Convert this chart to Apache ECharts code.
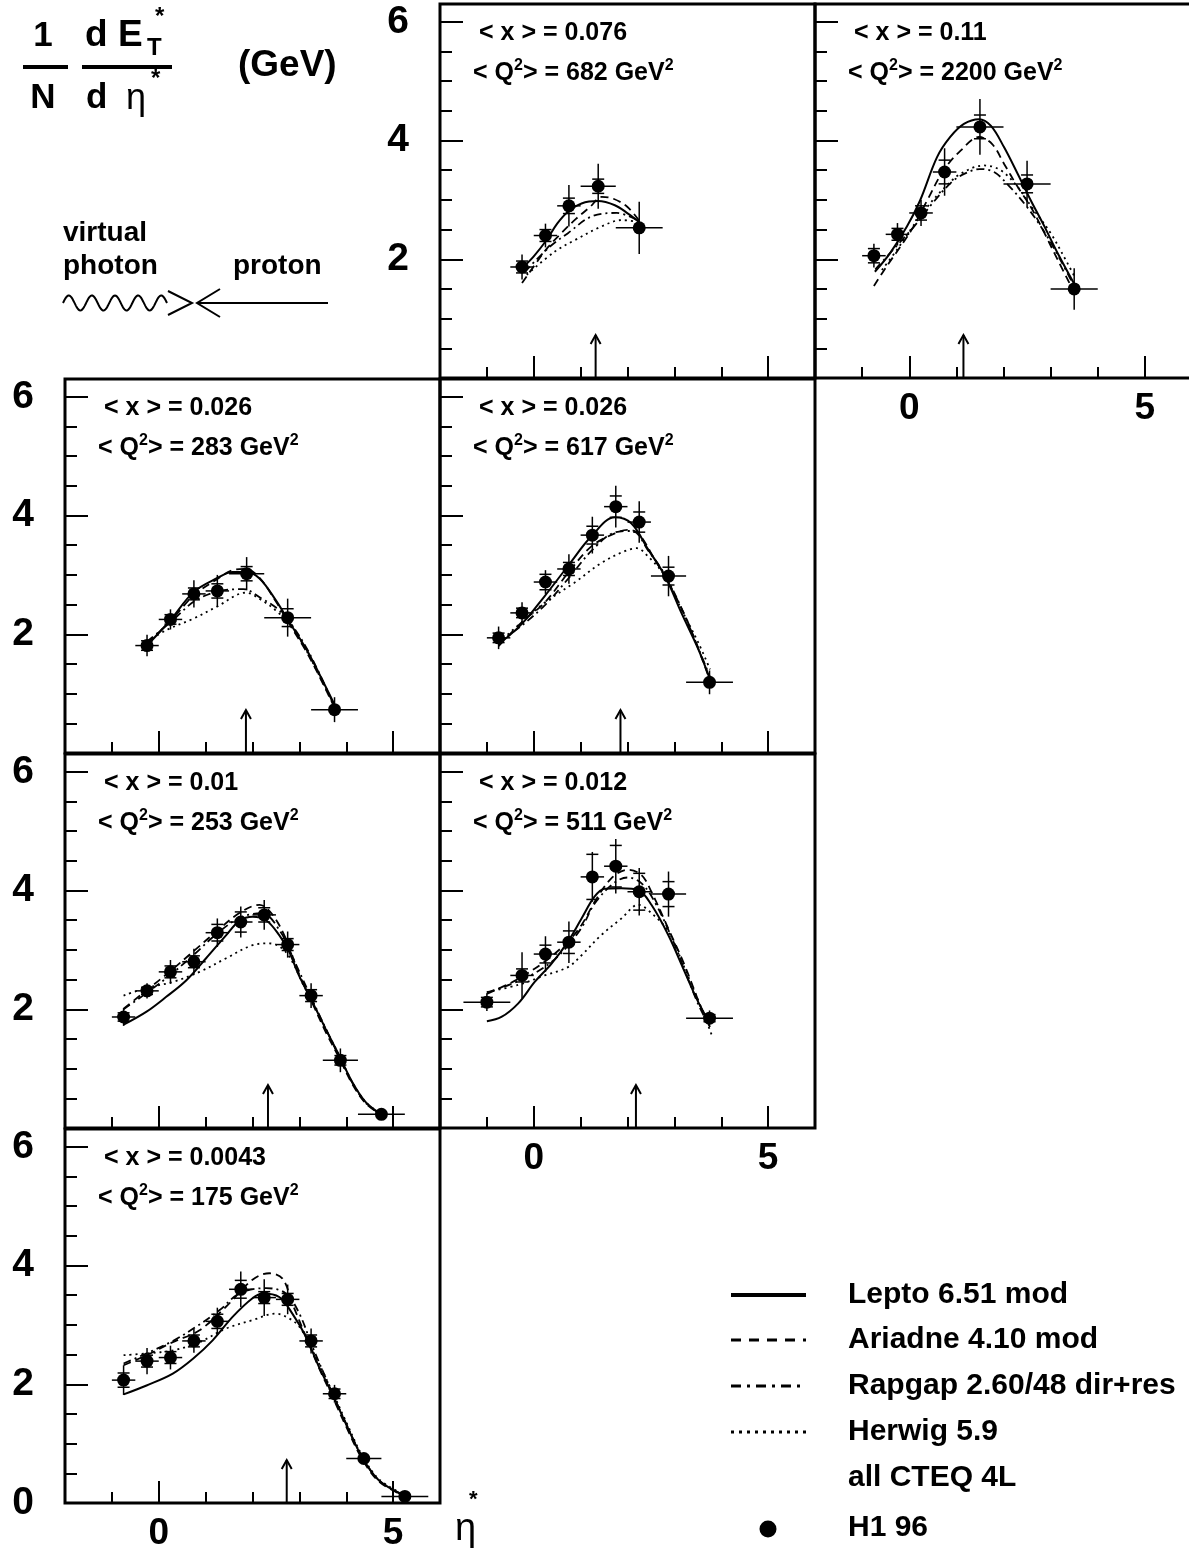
<!DOCTYPE html>
<html><head><meta charset="utf-8">
<script src="https://cdn.jsdelivr.net/npm/echarts@6/dist/echarts.min.js"></script>
<style>html,body{margin:0;padding:0;background:#fff}#c{width:1189px;height:1557px}</style>
</head><body><div id="c"></div>
<script>
// ---------------- DATA ----------------
// H1 96 data points: [eta*, value, total error, stat error, half bin width]
const h1A = [[-0.25,1.87,0.21,0.10,0.25],[0.25,2.40,0.20,0.10,0.25],[0.75,2.90,0.35,0.13,0.25],[1.375,3.23,0.38,0.12,0.375],[2.25,2.53,0.44,0,0.5]];
const h1B = [[-0.75,2.06,0.20,0.12,0.25],[-0.25,2.42,0.19,0.10,0.25],[0.25,2.78,0.22,0.12,0.25],[0.75,3.47,0.40,0.20,0.25],[1.5,4.23,0.47,0.20,0.5],[2.5,3.27,0.39,0.15,0.5],[3.5,1.50,0.35,0,0.5]];
const h1C = [[-0.25,1.81,0.18,0.08,0.25],[0.25,2.25,0.17,0.08,0.25],[0.75,2.68,0.23,0.10,0.25],[1.25,2.73,0.27,0.12,0.25],[1.875,3.02,0.28,0.12,0.375],[2.75,2.28,0.32,0.15,0.5],[3.75,0.73,0.21,0,0.5]];
const h1D = [[-0.75,1.94,0.19,0.08,0.25],[-0.25,2.36,0.18,0.08,0.25],[0.25,2.88,0.20,0.13,0.25],[0.75,3.10,0.25,0.11,0.25],[1.25,3.67,0.31,0.15,0.25],[1.75,4.15,0.35,0.18,0.25],[2.25,3.89,0.35,0.17,0.25],[2.875,2.98,0.34,0.15,0.375],[3.75,1.19,0.20,0,0.5]];
const h1E = [[-0.75,1.87,0.15,0.07,0.25],[-0.25,2.31,0.13,0.06,0.25],[0.25,2.63,0.20,0.10,0.25],[0.75,2.80,0.22,0.10,0.25],[1.25,3.29,0.24,0.14,0.25],[1.75,3.47,0.26,0.17,0.25],[2.25,3.59,0.25,0.12,0.25],[2.75,3.09,0.22,0.10,0.25],[3.25,2.23,0.21,0.10,0.25],[3.875,1.14,0.20,0.08,0.375],[4.75,0.23,0.03,0,0.5]];
const h1F = [[-1.0,2.12,0.15,0.08,0.5],[-0.25,2.57,0.39,0.11,0.25],[0.25,2.93,0.30,0.15,0.25],[0.75,3.13,0.35,0.19,0.25],[1.25,4.23,0.42,0.38,0.25],[1.75,4.41,0.46,0.35,0.25],[2.25,3.98,0.40,0.31,0.25],[2.875,3.94,0.38,0.21,0.375],[3.75,1.85,0.13,0.06,0.5]];
const h1G = [[-0.75,2.07,0.25,0.12,0.25],[-0.25,2.39,0.22,0.10,0.25],[0.25,2.45,0.20,0.10,0.25],[0.75,2.73,0.20,0.10,0.25],[1.25,3.06,0.23,0.12,0.25],[1.75,3.60,0.30,0.15,0.25],[2.25,3.46,0.31,0.10,0.25],[2.75,3.43,0.25,0.10,0.25],[3.25,2.73,0.21,0.10,0.25],[3.75,1.84,0.15,0.08,0.25],[4.375,0.75,0.05,0,0.375],[5.25,0.11,0.03,0,0.5]];

// Lepto 6.51 mod
const leptoA = [[-0.21,1.88],[0.0,2.05],[0.27,2.32],[0.5,2.6],[0.73,2.80],[1.02,2.94],[1.37,2.98],[1.73,2.91],[2.01,2.77],[2.25,2.63]];
const leptoB = [[-0.73,1.79],[-0.41,2.1],[-0.05,2.55],[0.23,2.99],[0.59,3.72],[0.87,4.06],[1.16,4.28],[1.48,4.36],[1.73,4.25],[2.01,3.89],[2.3,3.44],[2.58,2.99],[2.87,2.55],[3.15,2.1],[3.51,1.57]];
const leptoC = [[-0.25,1.81],[0.25,2.24],[0.74,2.71],[1.23,2.94],[1.58,3.05],[1.86,3.05],[2.15,2.94],[2.5,2.57],[2.78,2.21],[3.14,1.76],[3.42,1.34],[3.74,0.83]];
const leptoD = [[-0.75,1.83],[-0.26,2.17],[0.23,2.64],[0.73,3.15],[1.23,3.65],[1.73,3.97],[2.08,3.87],[2.44,3.43],[2.8,2.98],[3.15,2.36],[3.51,1.75],[3.76,1.24]];
const leptoE = [[-0.75,1.74],[-0.26,1.96],[0.16,2.21],[0.59,2.49],[1.01,2.86],[1.44,3.25],[1.72,3.49],[2.0,3.56],[2.29,3.50],[2.57,3.25],[2.78,2.97],[2.99,2.57],[3.28,2.12],[3.56,1.67],[3.85,1.22],[4.13,0.77],[4.41,0.44],[4.73,0.24]];
const leptoF = [[-1.0,1.80],[-0.69,1.87],[-0.33,2.10],[0.02,2.46],[0.38,2.77],[0.73,3.14],[1.02,3.53],[1.3,3.9],[1.51,4.03],[1.87,4.04],[2.23,4.01],[2.51,3.76],[2.87,3.25],[3.22,2.63],[3.51,2.12],[3.76,1.76]];
const leptoG = [[-0.75,1.83],[-0.26,1.98],[0.3,2.18],[0.73,2.43],[1.15,2.74],[1.58,3.14],[2.0,3.45],[2.22,3.53],[2.57,3.47],[2.85,3.19],[3.14,2.8],[3.42,2.29],[3.7,1.84],[3.99,1.34],[4.34,0.77],[4.7,0.38],[5.23,0.13]];

// Ariadne 4.10 mod
const ariadneA = [[-0.25,1.60],[0,1.88],[0.3,2.2],[0.6,2.45],[0.9,2.68],[1.2,2.88],[1.45,3.05],[1.7,3.02],[2.0,2.88],[2.25,2.65]];
const ariadneB = [[-0.75,1.55],[-0.48,1.88],[-0.19,2.21],[0.09,2.55],[0.38,2.99],[0.73,3.50],[1.09,3.83],[1.48,4.06],[1.76,3.94],[2.01,3.61],[2.3,3.22],[2.58,2.88],[2.87,2.44],[3.15,1.99],[3.47,1.49]];
const ariadneC = [[-0.25,1.85],[0.25,2.22],[0.74,2.65],[1.23,2.92],[1.58,3.08],[1.86,3.10],[2.15,2.95],[2.5,2.55],[2.78,2.18],[3.14,1.72],[3.42,1.3],[3.74,0.78]];
const ariadneD = [[-0.75,1.8],[-0.26,2.2],[0.23,2.53],[0.73,3.03],[1.23,3.48],[1.73,3.7],[2.0,3.76],[2.23,3.7],[2.58,3.26],[2.87,2.87],[3.29,2.2],[3.76,1.22]];
const ariadneE = [[-0.75,2.01],[-0.26,2.32],[0.23,2.63],[0.73,2.97],[1.23,3.31],[1.72,3.62],[2.15,3.76],[2.43,3.59],[2.71,3.19],[2.99,2.6],[3.28,2.1],[3.56,1.62],[3.85,1.18],[4.13,0.74],[4.41,0.42],[4.73,0.23]];
const ariadneF = [[-1.0,2.26],[-0.55,2.42],[-0.25,2.55],[0.23,2.8],[0.73,3.14],[1.02,3.42],[1.3,3.81],[1.66,4.21],[2.01,4.35],[2.3,4.26],[2.51,3.98],[2.87,3.36],[3.22,2.74],[3.58,2.01],[3.76,1.73]];
const ariadneG = [[-0.75,2.32],[-0.26,2.49],[0.3,2.71],[0.87,2.91],[1.44,3.31],[2.0,3.76],[2.36,3.87],[2.64,3.78],[2.85,3.36],[3.14,2.8],[3.42,2.27],[3.7,1.8],[3.99,1.3],[4.34,0.74],[4.7,0.36],[5.23,0.12]];

// Rapgap 2.60/48 dir+res
const rapgapA = [[-0.2,1.78],[0.34,2.21],[0.73,2.44],[1.23,2.72],[1.77,2.78],[2.25,2.64]];
const rapgapB = [[-0.72,1.83],[-0.3,2.2],[0.1,2.55],[0.5,2.95],[0.9,3.3],[1.2,3.45],[1.5,3.52],[1.8,3.47],[2.1,3.25],[2.5,2.88],[2.9,2.42],[3.2,2.0],[3.5,1.55]];
const rapgapC = [[-0.25,1.88],[0.25,2.2],[0.75,2.55],[1.25,2.72],[1.8,2.76],[2.2,2.6],[2.5,2.45],[2.8,2.2],[3.2,1.7],[3.74,0.8]];
const rapgapD = [[-0.75,1.86],[-0.25,2.15],[0.25,2.5],[0.75,2.95],[1.25,3.42],[1.75,3.72],[2.1,3.74],[2.45,3.4],[2.8,3.0],[3.2,2.35],[3.76,1.28]];
const rapgapE = [[-0.75,2.0],[-0.25,2.28],[0.25,2.58],[0.75,2.92],[1.25,3.28],[1.75,3.55],[2.2,3.62],[2.6,3.3],[2.9,2.8],[3.28,2.15],[3.56,1.68],[3.85,1.2],[4.13,0.76],[4.41,0.43],[4.73,0.23]];
const rapgapF = [[-1.0,2.28],[-0.5,2.42],[0.0,2.6],[0.5,2.88],[1.0,3.35],[1.3,3.78],[1.7,4.12],[2.0,4.22],[2.3,4.12],[2.6,3.78],[3.0,3.1],[3.5,2.1],[3.76,1.7]];
const rapgapG = [[-0.75,2.35],[-0.26,2.52],[0.3,2.73],[0.8,2.97],[1.3,3.25],[1.72,3.53],[2.29,3.62],[2.71,3.53],[3.0,3.19],[3.28,2.63],[3.7,1.86],[3.99,1.35],[4.34,0.78],[4.7,0.38],[5.23,0.13]];

// Herwig 5.9
const herwigA = [[-0.15,1.74],[0.45,2.13],[0.87,2.32],[1.44,2.55],[1.87,2.66],[2.23,2.63]];
const herwigB = [[-0.58,1.82],[-0.26,2.16],[0.02,2.49],[0.38,2.88],[0.73,3.19],[1.09,3.44],[1.59,3.58],[1.94,3.5],[2.3,3.22],[2.58,2.9],[3.0,2.44],[3.36,1.93],[3.5,1.72]];
const herwigC = [[-0.25,1.87],[0.16,2.07],[0.73,2.26],[1.23,2.46],[1.86,2.70],[2.2,2.57],[2.5,2.4],[2.78,2.18],[3.14,1.74],[3.74,0.8]];
const herwigD = [[-0.75,1.86],[-0.26,2.2],[0.23,2.53],[0.87,2.87],[1.44,3.2],[1.94,3.4],[2.2,3.45],[2.44,3.31],[2.8,2.98],[3.15,2.42],[3.51,1.86],[3.76,1.41]];
const herwigE = [[-0.75,2.23],[-0.26,2.36],[0.3,2.46],[0.87,2.63],[1.44,2.86],[2.0,3.08],[2.36,3.11],[2.64,3.02],[2.85,2.8],[3.06,2.45],[3.28,2.12],[3.56,1.67],[3.85,1.22],[4.13,0.77],[4.41,0.44],[4.73,0.24]];
const herwigF = [[-1.0,2.29],[-0.33,2.41],[0.23,2.57],[0.73,2.71],[1.02,2.91],[1.44,3.25],[1.87,3.53],[2.23,3.76],[2.51,3.62],[2.87,3.31],[3.22,2.69],[3.58,2.01],[3.8,1.56]];
const herwigG = [[-0.75,2.49],[-0.26,2.52],[0.3,2.57],[0.87,2.71],[1.44,2.94],[2.0,3.08],[2.5,3.19],[2.78,3.11],[3.0,2.97],[3.28,2.57],[3.7,1.88],[3.99,1.38],[4.34,0.8],[4.7,0.4],[5.23,0.14]];

// arrows (mean eta) and panel labels
const arrowEta = [1.32, 1.15, 1.86, 1.85, 2.33, 2.18, 2.73];
const xMeanLabels = ['0.076','0.11','0.026','0.026','0.01','0.012','0.0043'];
const q2MeanLabels = ['682','2200','283','617','253','511','175'];

// axis ticks / labels
const xTickMinor = [-1,1,2,3,4];
const xTickMajor = [0,5];
const xTickLabels = [0,5];
const yTickMinor = [0.5,1,1.5,2.5,3,3.5,4.5,5,5.5];
const yTickMajor = [2,4,6];
const yTickLabels = [2,4,6];
const yTickLabelsBottom = [0,2,4,6];
const legendNames = ['Lepto 6.51 mod','Ariadne 4.10 mod','Rapgap 2.60/48 dir+res','Herwig 5.9','all CTEQ 4L','H1 96'];

// ---------------- LAYOUT ----------------
const FONT = 'Liberation Sans, Arial, sans-serif';
const colLeft = [65, 440, 815];
const rowTop = [4, 379, 754, 1129];
const panelCol = [1, 2, 0, 1, 0, 1, 0];
const panelRow = [0, 0, 1, 1, 2, 2, 3];
const showYLab = [true, false, true, false, true, false, true];
const showXLab = [false, true, false, false, false, true, true];
const PW = 375, PH = 374;

const h1Sets = [h1A,h1B,h1C,h1D,h1E,h1F,h1G];
const lepSets = [leptoA,leptoB,leptoC,leptoD,leptoE,leptoF,leptoG];
const ariSets = [ariadneA,ariadneB,ariadneC,ariadneD,ariadneE,ariadneF,ariadneG];
const rapSets = [rapgapA,rapgapB,rapgapC,rapgapD,rapgapE,rapgapF,rapgapG];
const herSets = [herwigA,herwigB,herwigC,herwigD,herwigE,herwigF,herwigG];

const dashSolid = 'solid', dashDash = [8,5], dashDashDot = [8,4,2,4], dashDot = [2,4];

const grids = [], xAxes = [], yAxes = [], series = [], graphics = [];
const tickStyle = {color:'#000', width:2};
const labStyleX = {color:'#000', fontFamily:FONT, fontWeight:'bold', fontSize:37};
const labStyleY = {color:'#000', fontFamily:FONT, fontWeight:'bold', fontSize:39};

for (let i = 0; i < 7; i++) {
  const left = colLeft[panelCol[i]], top = rowTop[panelRow[i]];
  grids.push({left:left, top:top, width: panelCol[i]===2 ? PW+2 : PW, height:PH,
    show:true, borderColor:'#000', borderWidth:3, backgroundColor:'transparent',
    containLabel:false, outerBoundsMode:'none'});
  const xb = {type:'value', gridIndex:i, min:-2, max:6, position:'bottom', offset:0,
    axisLine:{show:false, onZero:false}, splitLine:{show:false}, axisPointer:{show:false}};
  xAxes.push(Object.assign({}, xb, {axisTick:{show:true, inside:true, length:11, customValues:xTickMinor, lineStyle:tickStyle}, axisLabel:{show:false}}));
  xAxes.push(Object.assign({}, xb, {axisTick:{show:true, inside:true, length:22, customValues:xTickMajor, lineStyle:tickStyle},
    axisLabel:Object.assign({show:showXLab[i], customValues:xTickLabels, margin:12}, labStyleX)}));
  const yb = {type:'value', gridIndex:i, min:0, max:6.3, position:'left', offset:0,
    axisLine:{show:false, onZero:false}, splitLine:{show:false}, axisPointer:{show:false}};
  yAxes.push(Object.assign({}, yb, {axisTick:{show:true, inside:true, length:12, customValues:yTickMinor, lineStyle:tickStyle}, axisLabel:{show:false}}));
  yAxes.push(Object.assign({}, yb, {axisTick:{show:true, inside:true, length:23, customValues:yTickMajor, lineStyle:tickStyle},
    axisLabel:Object.assign({show:showYLab[i], customValues: i===6 ? yTickLabelsBottom : yTickLabels, margin:31, align:'right'}, labStyleY)}));

  const ax = {xAxisIndex:2*i, yAxisIndex:2*i};
  const curves = [[lepSets[i], dashSolid, 2], [ariSets[i], dashDash, 1.8], [rapSets[i], dashDashDot, 1.8], [herSets[i], dashDot, 1.8]];
  curves.forEach(function (c, k) {
    series.push(Object.assign({type:'line', name:legendNames[k], data:c[0], smooth:0.35, showSymbol:false, symbol:'none',
      lineStyle:{color:'#000', width:c[2], type:c[1], opacity:1}, silent:true, z:3}, ax));
  });
  // error bars
  series.push(Object.assign({type:'custom', name:'H1 96 errors', data:h1Sets[i], silent:true, z:4,
    encode:{x:0, y:1},
    renderItem:function (params, api) {
      const eta = api.value(0), v = api.value(1), tot = api.value(2), st = api.value(3), xe = api.value(4);
      const l = api.coord([eta - xe, v]), r = api.coord([eta + xe, v]);
      const t = api.coord([eta, v + tot]), b = api.coord([eta, Math.max(0, v - tot)]);
      const ls = {stroke:'#000', lineWidth:1.5};
      const ch = [
        {type:'line', shape:{x1:l[0], y1:l[1], x2:r[0], y2:r[1]}, style:ls},
        {type:'line', shape:{x1:t[0], y1:t[1], x2:b[0], y2:b[1]}, style:ls}
      ];
      if (st > 0) {
        const su = api.coord([eta, v + st]), sd = api.coord([eta, v - st]);
        ch.push({type:'line', shape:{x1:su[0]-6, y1:su[1], x2:su[0]+6, y2:su[1]}, style:ls});
        ch.push({type:'line', shape:{x1:sd[0]-6, y1:sd[1], x2:sd[0]+6, y2:sd[1]}, style:ls});
      }
      return {type:'group', children:ch};
    }}, ax));
  series.push(Object.assign({type:'scatter', name:'H1 96', data:h1Sets[i].map(function (d) { return [d[0], d[1]]; }),
    symbol:'circle', symbolSize:13, itemStyle:{color:'#000', opacity:1, borderWidth:0}, silent:true, z:5}, ax));
  // arrow at mean eta
  series.push(Object.assign({type:'custom', name:'arrow', data:[[arrowEta[i], 0]], silent:true, z:4,
    encode:{x:0, y:1},
    renderItem:function (params, api) {
      const p = api.coord([api.value(0), api.value(1)]);
      const tipY = p[1] - 43;
      const ls = {stroke:'#000', lineWidth:2, fill:null};
      return {type:'group', children:[
        {type:'line', shape:{x1:p[0], y1:p[1], x2:p[0], y2:tipY}, style:ls},
        {type:'polyline', shape:{points:[[p[0]-5, tipY+9], [p[0], tipY], [p[0]+5, tipY+9]]}, style:ls}
      ]};
    }}, ax));

  // panel annotations
  graphics.push({type:'text', x:left+39, y:top+29, silent:true,
    style:{text:'< x > = ' + xMeanLabels[i], fontSize:25, fontWeight:'bold', fontFamily:FONT, fill:'#000', verticalAlign:'middle'}});
  graphics.push({type:'text', x:left+33, y:top+69, silent:true,
    style:{text:'{a|< Q}{s|2}{a|> = ' + q2MeanLabels[i] + ' GeV}{s|2}', verticalAlign:'middle',
      rich:{a:{fontSize:25, fontWeight:'bold', fontFamily:FONT, fill:'#000', lineHeight:30},
            s:{fontSize:16, fontWeight:'bold', fontFamily:FONT, fill:'#000', lineHeight:12, verticalAlign:'top'}}}});
}

// ---------------- TITLE & DECORATION ----------------
function txt(x, y, s, size, bold, align) {
  return {type:'text', x:x, y:y, silent:true, style:{text:s, fontSize:size, fontWeight: bold ? 'bold' : 'normal',
    fontFamily:FONT, fill:'#000', verticalAlign:'middle', align: align || 'left'}};
}
graphics.push(txt(43, 36, '1', 35, true, 'center'));
graphics.push({type:'line', silent:true, shape:{x1:23, y1:67, x2:68, y2:67}, style:{stroke:'#000', lineWidth:4}});
graphics.push(txt(43, 98, 'N', 35, true, 'center'));
graphics.push(txt(85, 36, 'd E', 37, true));
graphics.push(txt(147, 48, 'T', 24, true));
graphics.push(txt(155, 17, '*', 24, true));
graphics.push({type:'line', silent:true, shape:{x1:82, y1:67, x2:172, y2:67}, style:{stroke:'#000', lineWidth:4}});
graphics.push(txt(86, 98, 'd', 35, true));
graphics.push(txt(126, 99, 'η', 36, false));
graphics.push(txt(151, 79, '*', 24, true));
graphics.push(txt(238, 66, '(GeV)', 37, true));
graphics.push(txt(63, 233, 'virtual', 28, true));
graphics.push(txt(63, 266, 'photon', 28, true));
graphics.push(txt(233, 266, 'proton', 28, true));
// wavy photon line
(function () {
  const pts = [];
  for (let k = 0; k <= 120; k++) {
    const x = 63 + k * (104 / 120);
    pts.push([x, 303 - 7.5 * Math.sin(k / 120 * 4.5 * 2 * Math.PI)]);
  }
  graphics.push({type:'polyline', silent:true, shape:{points:pts}, style:{stroke:'#000', lineWidth:2, fill:null}});
})();
graphics.push({type:'polyline', silent:true, shape:{points:[[168,291],[192,303],[168,315]]}, style:{stroke:'#000', lineWidth:2, fill:null}});
graphics.push({type:'polyline', silent:true, shape:{points:[[220,289],[197,303],[220,317]]}, style:{stroke:'#000', lineWidth:2, fill:null}});
graphics.push({type:'line', silent:true, shape:{x1:197, y1:303, x2:328, y2:303}, style:{stroke:'#000', lineWidth:2}});

// eta* axis title
graphics.push(txt(455, 1530, 'η', 38, false));
graphics.push(txt(469, 1500, '*', 22, true));

// legend
const legY = [1295, 1340, 1386, 1432];
const legDash = [null, [10,8], [10,6,3,6], [3,5]];
for (let k = 0; k < 4; k++) {
  graphics.push({type:'line', silent:true, shape:{x1:731, y1:legY[k], x2:806, y2:legY[k]},
    style:{stroke:'#000', lineWidth: k===0 ? 4 : 3, lineDash: legDash[k]}});
  graphics.push(txt(848, legY[k], legendNames[k], 30, true));
}
graphics.push(txt(848, 1478, legendNames[4], 30, true));
graphics.push({type:'circle', silent:true, shape:{cx:768, cy:1529, r:8.5}, style:{fill:'#000'}});
graphics.push(txt(848, 1528, legendNames[5], 30, true));

const chart = echarts.init(document.getElementById('c'), null, {renderer:'canvas'});
chart.setOption({
  animation:false,
  backgroundColor:'#fff',
  grid:grids, xAxis:xAxes, yAxis:yAxes, series:series, graphic:graphics,
  tooltip:{show:false}, legend:{show:false}
});
</script></body></html>
